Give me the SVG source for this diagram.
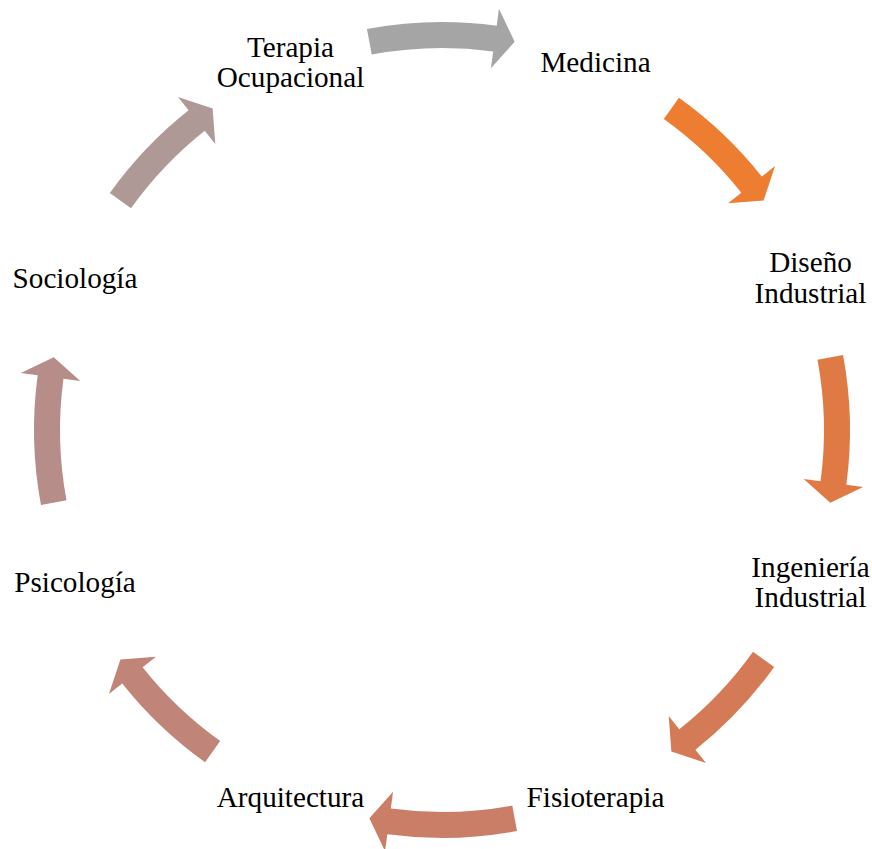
<svg xmlns="http://www.w3.org/2000/svg" width="872" height="849" viewBox="0 0 872 849">
  <style>
    .label { font-family: "Liberation Serif", "Times New Roman", serif; font-size: 29.2px; fill: #000000; text-anchor: middle; }
  </style>
  <defs>
    <!-- curved block arrow, drawn at the top of the ring (pointing clockwise), origin = ring centre -->
    <path id="arrow-axis" d="M -75.05,-401.04 A 408 408 0 0 1 54.67,-404.32 L 56.95,-421.17 L 72.66,-388.26 L 48.91,-361.71 L 51.18,-378.55 A 382 382 0 0 0 -70.27,-375.48 Z"/>
    <path id="arrow-diag" d="M -67.34,-402.41 A 408 408 0 0 1 46.90,-405.29 L 48.85,-422.18 L 65.19,-389.58 L 41.95,-362.58 L 43.91,-379.47 A 382 382 0 0 0 -63.05,-376.76 Z"/>
  </defs>
  <rect width="872" height="849" fill="#ffffff"/>

  <g id="connectors">
    <g transform="translate(442,430)">
      <use href="#arrow-axis" fill="#A5A5A5" transform="rotate(0)"/>
      <use href="#arrow-diag" fill="#ED7D31" transform="rotate(45)"/>
      <use href="#arrow-axis" fill="#E07A44" transform="rotate(90)"/>
      <use href="#arrow-diag" fill="#D57A56" transform="rotate(135)"/>
      <use href="#arrow-axis" fill="#CA7E68" transform="rotate(180)"/>
      <use href="#arrow-diag" fill="#C08478" transform="rotate(225)"/>
      <use href="#arrow-axis" fill="#B68D88" transform="rotate(270)"/>
      <use href="#arrow-diag" fill="#AE9997" transform="rotate(315)"/>
    </g>
  </g>

  <g id="terapia-ocupacional">
    <text class="label" x="290.5" y="56.5">Terapia</text>
    <text class="label" x="290.5" y="87">Ocupacional</text>
  </g>
  <g id="medicina">
    <text class="label" x="595.5" y="71.7">Medicina</text>
  </g>
  <g id="diseno-industrial">
    <text class="label" x="810.5" y="272.3">Diseño</text>
    <text class="label" x="810.5" y="303.3">Industrial</text>
  </g>
  <g id="ingenieria-industrial">
    <text class="label" x="810.5" y="576.7">Ingeniería</text>
    <text class="label" x="810.5" y="607.3">Industrial</text>
  </g>
  <g id="fisioterapia">
    <text class="label" x="595.5" y="807">Fisioterapia</text>
  </g>
  <g id="arquitectura">
    <text class="label" x="290.5" y="807">Arquitectura</text>
  </g>
  <g id="psicologia">
    <text class="label" x="75" y="592">Psicología</text>
  </g>
  <g id="sociologia">
    <text class="label" x="75" y="288">Sociología</text>
  </g>
</svg>
